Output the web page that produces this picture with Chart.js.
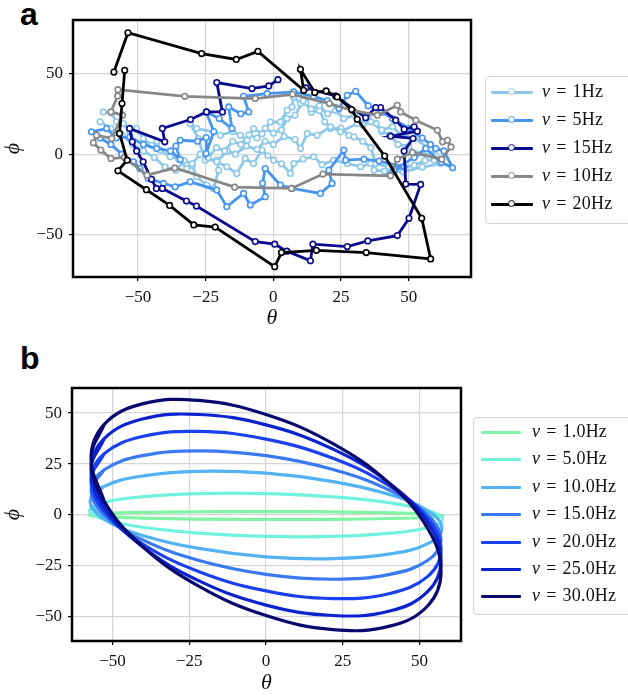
<!DOCTYPE html>
<html>
<head>
<meta charset="utf-8">
<script src="https://cdn.jsdelivr.net/npm/chart.js@4.4.0/dist/chart.umd.min.js"></script>
<style>
  body { margin: 0; background: #fff; width: 628px; height: 696px; overflow: hidden; position: relative; }
  canvas { position: absolute; left: 0; }
  #chart-a { top: 0; }
  #chart-b { top: 350px; }
  .tag { position: absolute; left: 20px; font: bold 32px "Liberation Sans", Arial, sans-serif; line-height: 32px; }
  .legend { position: absolute; border: 1px solid #d4d4d4; border-radius: 4px; background: rgba(255,255,255,0.85); }
  .row { position: absolute; left: 0; width: 200px; height: 24px; }
  .swatch { position: absolute; top: 10px; height: 3px; border-radius: 1px; }
  .dot { position: absolute; top: 7px; width: 5px; height: 5px; border-radius: 50%; background: #fff; border: 1.6px solid; }
  .label { position: absolute; top: 0; line-height: 24px; font: 18px "Liberation Serif", "DejaVu Serif", serif; letter-spacing: 0.2px; color: #111; white-space: nowrap; }
  .label i { margin-right: 6px; }
  .label span { margin-right: 6px; }
</style>
</head>
<body>
<div class="tag" style="top:-2px">a</div>
<div class="tag" style="top:342px">b</div>
<canvas id="chart-a" width="628" height="340"></canvas>
<canvas id="chart-b" width="628" height="346"></canvas>
<div id="legend-a" class="legend" style="left:485px;top:76px;width:160px;height:146px"></div>
<div id="legend-b" class="legend" style="left:473px;top:417px;width:170px;height:196px"></div>
<script>
// panel a: measured trajectories [theta, phi]
const traj1Hz = [[-62.8,26.1],[-59.8,25.5],[-58,20],[-55.4,18.9],[-53,13.8],[-50.5,15.8],[-48,9.7],[-45,5.5],[-43,8],[-41.9,2.5],[-38.1,-1.6],[-35,-3],[-32,-8.9],[-30,-7],[-28.3,-14],[-24.6,-19.1],[-22.1,-21.2],[-20.2,-9.9],[-20.9,-3.7],[-25.2,-3.7],[-27.7,9.7],[-30.7,18.9],[-28.3,15.8],[-22.1,13.8],[-19.6,11.7],[-15,14],[-12.2,11.7],[-9.7,8.6],[-7.3,15.8],[-4.2,12.7],[-1.1,19.9],[2.6,19.9],[5.1,27.1],[6.9,29.2],[7.5,35.4],[10,31.3],[12,32],[14,26],[17,27],[19,20],[21.1,15.8],[25,16],[27.9,11.7],[29.8,10.7],[33,8],[36,4],[37.8,-5.8],[42.7,-7.8],[47,-8.8],[52,-6.8],[56,-4],[59.4,-3.7],[61.8,-5.8],[55,-8],[48,-11],[41,-10.5],[37.2,-9.9],[35.9,-5.8],[32.2,-7.8],[27.3,-5.8],[22.3,-3.7],[18,-6.5],[14.9,-1.6],[11,-3],[7.5,-5.8],[6.3,-11.9],[3,-6],[0.1,-3.7],[-2,-1],[-4.2,2.5],[-7.3,-5.8],[-10.4,-2.7],[-13.5,-12],[-17.2,-7.8],[-20.9,-4.7],[-17,2],[-14,0],[-10,5],[-6,3],[-3,8],[0,6],[4,11],[8,9],[10,3.5],[12.5,12.7],[16.2,11.7],[21.1,16.9],[24.8,13.8],[31,18.9],[35,22],[38,19],[40,14],[43,12],[46,6],[50,5],[53,0],[57,2],[60,-1],[58,3],[52,10],[47,12],[44,17],[40,15],[36,20],[33,18],[30,24],[26,22],[23,27],[20,25],[17,30],[14,28],[11,33],[8,24],[5,22],[3,15],[0,13],[-3,16],[-6,10],[-9,12],[-12,6],[-15,8],[-18,2],[-21,4],[-24,-2],[-27,0],[-30,-6],[-33,-4],[-36,-10],[-40,-8],[-44,-2],[-48,2],[-52,6],[-56,12],[-60,16],[-64,20]];

const traj5Hz = [[-67.2,13.8],[-61.6,15.8],[-58,10],[-53,10.7],[-48,6],[-43.1,3.5],[-38,2],[-34.4,-3.3],[-36,5],[-34.4,8.6],[-28,8],[-24.8,10.3],[-24.8,0.4],[-22,14],[-24.8,26.1],[-20,22],[-15.3,15.8],[-16.5,29.2],[-12,25],[-9.1,26.1],[-11,35.8],[-2.3,37.4],[7.5,38.5],[14.9,35.8],[20,33],[24.2,28.2],[27.3,36.4],[30.4,38.9],[35,30],[40,26],[44,22],[50,16],[55,10],[58,6],[60,3.5],[63,2],[66.2,-8.4],[62,-5],[56.3,3.5],[52,-2],[44.6,-9.9],[48.3,-7.8],[39,-4.3],[33.5,-3.1],[26.7,-3.7],[26,2.5],[20.5,-9.9],[21.7,-18.1],[17.4,-24.3],[6.9,-21.2],[2.6,-19.1],[-3,-8.9],[-4,-18],[-3,-26.3],[-8.5,-31.5],[-11,-24.3],[-17.2,-32.5],[-20.9,-22.2],[-30.7,-17.1],[-36.3,-20.2],[-40.6,-18.1],[-46.2,-15],[-49.3,-8.9],[-51.7,-4.7],[-56,0],[-60,6],[-64,10]];

const traj15Hz = [[1.7,46.1],[-1.7,42.2],[-7.9,40.6],[-20.9,44.3],[-18.8,26.1],[-24.7,26.1],[-30.6,21.4],[-41,15.9],[-40.1,7.6],[-53.1,15.9],[-52.1,7.6],[-50.5,2],[-48.1,-4.7],[-45,-15.6],[-43.2,-21.2],[-41,-21.2],[-32.1,-29],[-28.4,-32.1],[-6.7,-54.1],[0.5,-55.7],[5,-60],[13.7,-66],[14.6,-55.7],[27.3,-57.2],[34.9,-53.7],[45.8,-50.4],[50.1,-39.7],[54.4,-18.7],[48.9,-18.5],[48.3,1.9],[51.6,9.7],[43.3,11.1],[53.2,14.2],[52,16.9],[48.3,15.4],[45.2,21],[39.6,28.8],[37.8,28.8],[34.1,22.6],[23,36],[12,41]];

const traj10Hz = [[-57.4,39.9],[-32.7,35.8],[-6.7,34.4],[7.1,37],[20.7,31.3],[29.1,27.1],[38.4,24.1],[45.8,30.2],[47,26.1],[52.6,21],[60.6,14.8],[62.5,7.6],[64.3,8.6],[65.6,4.5],[62.2,-3.1],[51.4,1],[45.8,-3.1],[43.3,-13.4],[18.3,-12.3],[6.7,-21.2],[-14.3,-20.4],[-36.4,-8.5],[-46.7,-13],[-55,-2],[-60,-2.7],[-63.7,2.5],[-66.5,7],[-65.3,11.7],[-59.7,9.7],[-55.7,24.1],[-60,26.1],[-57.5,36]];

const traj20Hz = [[-58.9,50.8],[-53.7,75.1],[-26.5,62.2],[-13.7,58.6],[-5.7,63.6],[11.2,39.5],[10,52.5],[15.3,38.1],[19.5,39.1],[23.6,35.4],[28.9,27.6],[31,21.6],[41.1,-1.2],[54.8,-39.7],[58.1,-64.8],[34.3,-60.9],[15.9,-59.5],[3,-60.9],[0.5,-69.6],[-21.5,-45.1],[-29.4,-43.8],[-38.3,-31.7],[-46.9,-22],[-57.4,-10.3],[-54,-3.7],[-56.8,12.8],[-55.9,31.3],[-54.9,51.9]];

const seriesA = [traj1Hz, traj5Hz, traj15Hz, traj10Hz, traj20Hz];
const labelsA = ['1Hz', '5Hz', '15Hz', '10Hz', '20Hz'];
const colorsA = ['#8ec8e8', '#4695f0', '#0a0a8e', '#878787', '#000000'];

// panel b: simulated orbits [theta, phi], read around each loop
const orbit1Hz  = [[-57.7,0],[-53.3,0.7],[-40.8,1.3],[-22.1,1.6],[0,1.7],[22.1,1.5],[40.8,1.0],[53.3,0.4],[57.7,-0.4],[53.3,-1.1],[40.8,-1.7],[22.1,-2.1],[0,-2.2],[-22.1,-2.0],[-40.8,-1.5],[-53.3,-0.8]];
const orbit5Hz  = [[-57.5,2.1],[-53.1,6.0],[-40.7,8.9],[-22.0,10.5],[0,10.5],[22.0,8.9],[40.7,5.9],[53.1,2.0],[57.5,-2.1],[53.1,-6.0],[40.7,-8.9],[22.0,-10.5],[0,-10.5],[-22.0,-8.9],[-40.7,-5.9],[-53.1,-2.0]];
const orbit10Hz = [[-57.3,6.5],[-52.9,13.9],[-40.5,19.1],[-21.9,21.4],[0,20.5],[21.9,16.4],[40.5,9.9],[52.9,1.9],[57.3,-6.5],[52.9,-13.9],[40.5,-19.1],[21.9,-21.4],[0,-20.5],[-21.9,-16.4],[-40.5,-9.9],[-52.9,-1.9]];
const orbit15Hz = [[-57,12.0],[-52.7,22.2],[-40.3,29.1],[-21.8,31.5],[0,29.1],[21.8,22.3],[40.3,12.1],[52.7,0],[57,-12.0],[52.7,-22.2],[40.3,-29.1],[21.8,-31.5],[0,-29.1],[-21.8,-22.3],[-40.3,-12.1],[-52.7,0]];
const orbit20Hz = [[-57,17.2],[-52.7,30.1],[-40.3,38.5],[-21.8,41.0],[0,37.2],[21.8,27.8],[40.3,14.1],[52.7,-1.7],[57,-17.2],[52.7,-30.1],[40.3,-38.5],[21.8,-41.0],[0,-37.2],[-21.8,-27.8],[-40.3,-14.1],[-52.7,1.7]];
const orbit25Hz = [[-57,22.3],[-52.7,37.5],[-40.3,47.1],[-21.8,49.3],[0,44.2],[21.8,32.3],[40.3,15.5],[52.7,-3.7],[57,-22.3],[52.7,-37.5],[40.3,-47.1],[21.8,-49.3],[0,-44.2],[-21.8,-32.3],[-40.3,-15.5],[-52.7,3.7]];
const orbit30Hz = [[-57,27.7],[-52.7,44.5],[-40.3,54.5],[-21.8,56.2],[0,49.3],[21.8,35.0],[40.3,15.3],[52.7,-6.7],[57,-27.7],[52.7,-44.5],[40.3,-54.5],[21.8,-56.2],[0,-49.3],[-21.8,-35.0],[-40.3,-15.3],[-52.7,6.7]];

const seriesB = [orbit1Hz, orbit5Hz, orbit10Hz, orbit15Hz, orbit20Hz, orbit25Hz, orbit30Hz];
const labelsB = ['1.0Hz', '5.0Hz', '10.0Hz', '15.0Hz', '20.0Hz', '25.0Hz', '30.0Hz'];
const colorsB = ['#80f4a2', '#6ff3de', '#52b2f3', '#3a7af0', '#1a40f0', '#0b22cf', '#08086f'];

const thetaTicks = [-50, -25, 0, 25, 50];
const phiTicksA = [-50, 0, 50];
const phiTicksB = [-50, -25, 0, 25, 50];

const serif = '"Liberation Serif", "DejaVu Serif", serif';
const minus = v => v < 0 ? '\u2212' + Math.abs(v) : String(v);
const toXY = pts => pts.map(([x, y]) => ({ x, y }));
// wrap one point on each side so the spline closes smoothly
const closeLoop = pts => [pts[pts.length - 1], ...pts, pts[0], pts[1]];

const frame = {
    id: 'frame',
    afterDraw(chart) {
        const { ctx, chartArea: a } = chart;
        ctx.save();
        ctx.strokeStyle = '#000';
        ctx.lineWidth = 2.5;
        ctx.strokeRect(a.left, a.top, a.right - a.left, a.bottom - a.top);
        ctx.restore();
    }
};

function axis(min, max, ticks, title, size) {
    return {
        type: 'linear',
        min: min,
        max: max,
        afterBuildTicks: s => { s.ticks = ticks.map(v => ({ value: v })); },
        afterFit: s => { if (s.isHorizontal()) s.height = size; else s.width = size; },
        ticks: { callback: minus, color: '#111', padding: 6, maxRotation: 0, font: { family: serif, size: 17 } },
        grid: { color: '#d5d5d5', lineWidth: 1.2, tickColor: '#000', tickLength: 4, tickWidth: 1.2 },
        border: { display: false },
        title: { display: true, text: title, color: '#111', padding: 0, font: { family: serif, size: 22, style: 'italic' } }
    };
}

function baseOptions(padding, xs, ys) {
    return {
        responsive: false,
        animation: false,
        devicePixelRatio: 1,
        layout: { padding: padding },
        plugins: { legend: { display: false }, tooltip: { enabled: false } },
        scales: { x: xs, y: ys }
    };
}

new Chart(document.getElementById('chart-a'), {
    type: 'scatter',
    data: {
        datasets: seriesA.map((pts, i) => ({
            label: labelsA[i],
            data: toXY(pts),
            showLine: true,
            borderColor: colorsA[i],
            borderWidth: 2.8,
            pointRadius: 2.8,
            pointBorderWidth: 1.6,
            pointBorderColor: colorsA[i],
            pointBackgroundColor: '#fff',
            order: -i
        }))
    },
    options: baseOptions({ left: 0, right: 157, top: 20, bottom: 9 },
        axis(-74, 73, thetaTicks, 'θ', 54),
        axis(-76, 83, phiTicksA, 'ϕ', 73)),
    plugins: [frame]
});

new Chart(document.getElementById('chart-b'), {
    type: 'scatter',
    data: {
        datasets: seriesB.map((pts, i) => ({
            label: labelsB[i],
            data: toXY(closeLoop(pts)),
            showLine: true,
            tension: 0.4,
            borderColor: colorsB[i],
            borderWidth: 3.2,
            pointRadius: 0,
            order: -i
        }))
    },
    options: baseOptions({ left: 0, right: 167, top: 38, bottom: 0 },
        axis(-63.2, 63.5, thetaTicks, 'θ', 55),
        axis(-61.8, 62.3, phiTicksB, 'ϕ', 72)),
    plugins: [frame]
});

function buildLegend(id, labels, colors, rowTops, lineLeft, lineWidth, textLeft, markers) {
    const box = document.getElementById(id);
    labels.forEach((text, i) => {
        const row = document.createElement('div');
        row.className = 'row';
        row.style.top = (rowTops[i] - 12) + 'px';
        const line = document.createElement('div');
        line.className = 'swatch';
        line.style.left = lineLeft + 'px';
        line.style.width = lineWidth + 'px';
        line.style.background = colors[i];
        row.appendChild(line);
        if (markers) {
            const dot = document.createElement('div');
            dot.className = 'dot';
            dot.style.left = (lineLeft + lineWidth / 2 - 4) + 'px';
            dot.style.borderColor = colors[i];
            row.appendChild(dot);
        }
        const label = document.createElement('div');
        label.className = 'label';
        label.style.left = textLeft + 'px';
        label.innerHTML = '<i>ν</i><span>=</span>' + text;
        row.appendChild(label);
        box.appendChild(row);
    });
}

buildLegend('legend-a', labelsA, colorsA, [16, 44, 72, 100, 128], 5, 42, 56, true);
buildLegend('legend-b', labelsB, colorsB, [15, 42, 70, 97, 125, 152, 179], 7, 40, 58, false);
</script>
</body>
</html>
